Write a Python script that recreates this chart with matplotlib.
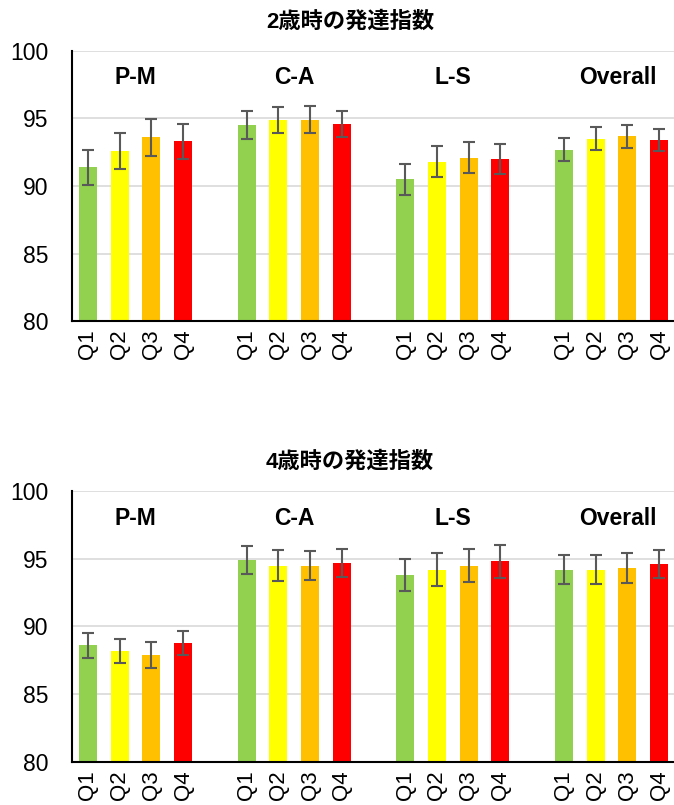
import matplotlib
matplotlib.use("Agg")
import matplotlib.pyplot as plt
import numpy as np

plt.rcParams['font.family'] = ['Liberation Sans', 'Noto Sans CJK JP', 'DejaVu Sans']

groups = ["P-M", "C-A", "L-S", "Overall"]
quartiles = ["Q1", "Q2", "Q3", "Q4"]
colors = ["#92D050", "#FFFF00", "#FFC000", "#FF0000"]

title_2y = "2歳時の発達指数"
mean_2y = [91.4, 92.6, 93.6, 93.3,
           94.5, 94.9, 94.9, 94.6,
           90.5, 91.8, 92.1, 92.0,
           92.7, 93.5, 93.7, 93.4]
err_2y = [1.3, 1.35, 1.35, 1.3,
          1.05, 0.95, 1.0, 0.95,
          1.15, 1.15, 1.15, 1.1,
          0.85, 0.85, 0.85, 0.8]

title_4y = "4歳時の発達指数"
mean_4y = [88.6, 88.2, 87.9, 88.8,
           94.9, 94.5, 94.5, 94.7,
           93.8, 94.2, 94.5, 94.8,
           94.2, 94.2, 94.3, 94.6]
err_4y = [0.9, 0.9, 0.95, 0.9,
          1.05, 1.15, 1.1, 1.05,
          1.2, 1.2, 1.2, 1.25,
          1.05, 1.1, 1.1, 1.05]

# x positions: 4 bars per group with a gap of one slot between groups
xpos = []
for g in range(len(groups)):
    for q in range(len(quartiles)):
        xpos.append(g * 5 + q)
xpos = np.array(xpos)

W, H = 674, 805
fig = plt.figure(figsize=(W / 100, H / 100), dpi=100)

def panel(rect, means, errs, title, title_y):
    ax = fig.add_axes(rect)
    bar_colors = [colors[i % 4] for i in range(len(means))]
    ax.bar(xpos, means, width=0.57, color=bar_colors, zorder=2)
    ax.errorbar(xpos, means, yerr=errs, fmt='none', ecolor='#595959',
                elinewidth=1.5, capsize=4, capthick=1.5, zorder=3)
    ax.set_ylim(80, 100)
    ax.set_xlim(-0.5, 18.5)
    ax.set_yticks([80, 85, 90, 95, 100])
    ax.set_xticks(xpos)
    ax.set_xticklabels(quartiles * len(groups), rotation=90, fontsize=16)
    ax.tick_params(axis='y', labelsize=16.5, length=0, pad=17)
    ax.tick_params(axis='x', length=0, pad=6)
    ax.yaxis.grid(True, color='#D9D9D9', linewidth=1.2, zorder=0)
    ax.set_axisbelow(True)
    for s in ['top', 'right']:
        ax.spines[s].set_visible(False)
    for s in ['left', 'bottom']:
        ax.spines[s].set_color('black')
        ax.spines[s].set_linewidth(1.5)
    for g, name in enumerate(groups):
        ax.text(g * 5 + 1.5 + (0.2 if name == "Overall" else 0), 98.0, name,
                ha='center', va='center', fontsize=16.5, fontweight='bold')
    fig.text(350 / W, 1 - title_y / H, title, ha='center', va='center',
             fontsize=16, fontweight='bold')
    return ax

panel([72 / W, 1 - 321 / H, 603 / W, 270 / H], mean_2y, err_2y, title_2y, 22)
panel([72 / W, 1 - 762 / H, 603 / W, 271 / H], mean_4y, err_4y, title_4y, 462)

fig.savefig("out.png", dpi=100)
